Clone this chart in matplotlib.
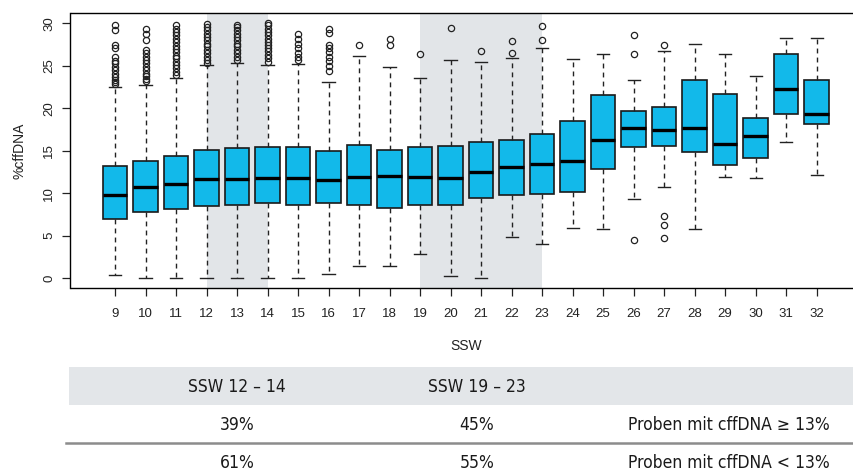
import matplotlib
matplotlib.use("Agg")
import matplotlib.pyplot as plt
from matplotlib.patches import Rectangle
from matplotlib.lines import Line2D

plt.rcParams["font.family"] = ["Liberation Sans", "DejaVu Sans"]

ssw = [9, 10, 11, 12, 13, 14, 15, 16, 17, 18, 19, 20,
       21, 22, 23, 24, 25, 26, 27, 28, 29, 30, 31, 32]
lower = [0.35, 0.0, 0.0, 0.0, 0.0, 0.0, 0.0, 0.47, 1.37, 1.37, 2.86, 0.27,
         0.0, 4.9, 4.04, 5.96, 5.73, 9.37, 10.75, 5.84, 11.96, 11.76, 16.08, 12.12]
q1 = [6.98, 7.84, 8.12, 8.47, 8.59, 8.82, 8.67, 8.82, 8.59, 8.31, 8.59, 8.59,
      9.49, 9.76, 9.92, 10.12, 12.82, 15.45, 15.6, 14.82, 13.3, 14.2, 19.33, 18.16]
median = [9.84, 10.75, 11.06, 11.65, 11.73, 11.8, 11.8, 11.6, 11.92, 12.04, 11.92, 11.84,
          12.5, 13.06, 13.41, 13.8, 16.27, 17.69, 17.49, 17.65, 15.84, 16.8, 22.27, 19.33]
q3 = [13.22, 13.84, 14.35, 15.14, 15.29, 15.41, 15.41, 14.98, 15.65, 15.06, 15.41, 15.6,
      16.04, 16.24, 16.94, 18.47, 21.6, 19.65, 20.2, 23.3, 21.7, 18.9, 26.4, 23.3]
upper = [22.47, 22.7, 23.6, 25.1, 25.4, 25.1, 25.2, 23.1, 26.2, 24.9, 23.6, 25.7,
         25.5, 25.96, 27.06, 25.84, 26.4, 23.4, 26.75, 27.6, 26.4, 23.8, 28.3, 28.27]
outliers = [
    [22.9, 23.1, 23.3, 23.7, 24.0, 24.5, 24.9, 25.3, 25.6, 26.1, 27.1, 27.5, 29.2, 29.8],
    [23.25, 23.5, 23.8, 24.1, 24.5, 24.9, 25.3, 25.7, 26.1, 26.5, 26.9, 28.0, 28.8, 29.3],
    [23.9, 24.3, 24.7, 25.1, 25.5, 25.9, 26.2, 26.6, 27.0, 27.4, 27.8, 28.2, 28.6, 29.0, 29.4, 29.8],
    [25.3, 25.7, 26.1, 26.5, 26.9, 27.3, 27.6, 28.0, 28.4, 28.8, 29.2, 29.6, 29.9],
    [25.7, 26.1, 26.5, 26.9, 27.3, 27.6, 28.0, 28.4, 28.8, 29.2, 29.6, 29.8],
    [25.5, 25.9, 26.3, 26.7, 27.1, 27.5, 27.8, 28.2, 28.6, 29.0, 29.4, 29.8, 30.0],
    [25.7, 26.1, 26.5, 27.1, 27.6, 28.2, 28.8],
    [24.4, 25.0, 25.6, 26.1, 26.6, 27.1, 27.5, 28.9, 29.3],
    [27.5],
    [27.45, 28.2],
    [26.35],
    [29.5],
    [26.75],
    [26.5, 27.9],
    [28.1, 29.7],
    [],
    [],
    [28.7, 26.4, 4.5],
    [27.45, 7.3, 6.2, 4.67],
    [],
    [],
    [],
    [],
    [],
]
shaded = [(12, 14), (19, 23)]

header = ["SSW 12 – 14", "SSW 19 – 23"]
row_hi = ["39%", "45%", "Proben mit cffDNA ≥ 13%"]
row_lo = ["61%", "55%", "Proben mit cffDNA < 13%"]

W, H = 854, 473
fig = plt.figure(figsize=(W / 100, H / 100), dpi=100)
ax = fig.add_axes([70.5 / W, 1 - 288.3 / H, (861.2 - 70.5) / W, (288.3 - 13.3) / H])

for a, b in shaded:
    ax.axvspan(a, b, color="#e2e5e8", zorder=0, lw=0)

stats = []
for i in range(len(ssw)):
    stats.append({"whislo": lower[i], "q1": q1[i], "med": median[i], "q3": q3[i],
                  "whishi": upper[i], "fliers": outliers[i]})

ax.bxp(stats, positions=ssw, widths=0.8, capwidths=0.4, patch_artist=True,
       boxprops=dict(facecolor="#12b9ea", edgecolor="#1a1a1a", linewidth=1.2),
       medianprops=dict(color="black", linewidth=2.4),
       whiskerprops=dict(color="#222222", linewidth=1.0, linestyle=(0, (3.5, 3))),
       capprops=dict(color="#222222", linewidth=1.0),
       flierprops=dict(marker="o", markerfacecolor="none", markeredgecolor="#222222",
                       markersize=4.5, markeredgewidth=0.9))

ax.set_xlim(ssw[0] - 1.46, ssw[-1] + 1.46)
ax.set_ylim(-1.2, 31.2)
ax.set_xticks(ssw)
ax.set_xticklabels([str(s) for s in ssw])
ax.set_yticks([0, 5, 10, 15, 20, 25, 30])
ax.set_yticklabels(["0", "5", "10", "15", "20", "25", "30"], rotation=90, va="center")
ax.tick_params(direction="out", length=6, width=0.9, labelsize=9.5, colors="#222222", pad=8)
ax.tick_params(axis="y", pad=5)
for s in ax.spines.values():
    s.set_linewidth(1.0)
ax.set_xlabel("SSW", fontsize=10, color="#222222", labelpad=14)
ax.set_ylabel("%cffDNA", fontsize=10, color="#222222", labelpad=12)

# table under the chart
def fx(px):
    return px / W

def fy(py):
    return 1 - py / H

fig.add_artist(Rectangle((fx(69), fy(405)), fx(W) - fx(69), fy(367) - fy(405),
                         transform=fig.transFigure, facecolor="#e3e6e9", edgecolor="none"))
fig.add_artist(Line2D([fx(66), 1], [fy(443), fy(443)], transform=fig.transFigure,
                      color="#8c8c8c", linewidth=1.8))

tfont = dict(family=["DejaVu Sans"], fontstretch="condensed", fontsize=12.5,
             color="#1a1a1a", ha="center", va="center")
cols = [237, 477, 729]
for i, t in enumerate(header):
    fig.text(fx(cols[i]), fy(387), t, **tfont)
for i, t in enumerate(row_hi):
    fig.text(fx(cols[i]), fy(425), t, **tfont)
for i, t in enumerate(row_lo):
    fig.text(fx(cols[i]), fy(463), t, **tfont)

fig.savefig("out.png", dpi=100)
